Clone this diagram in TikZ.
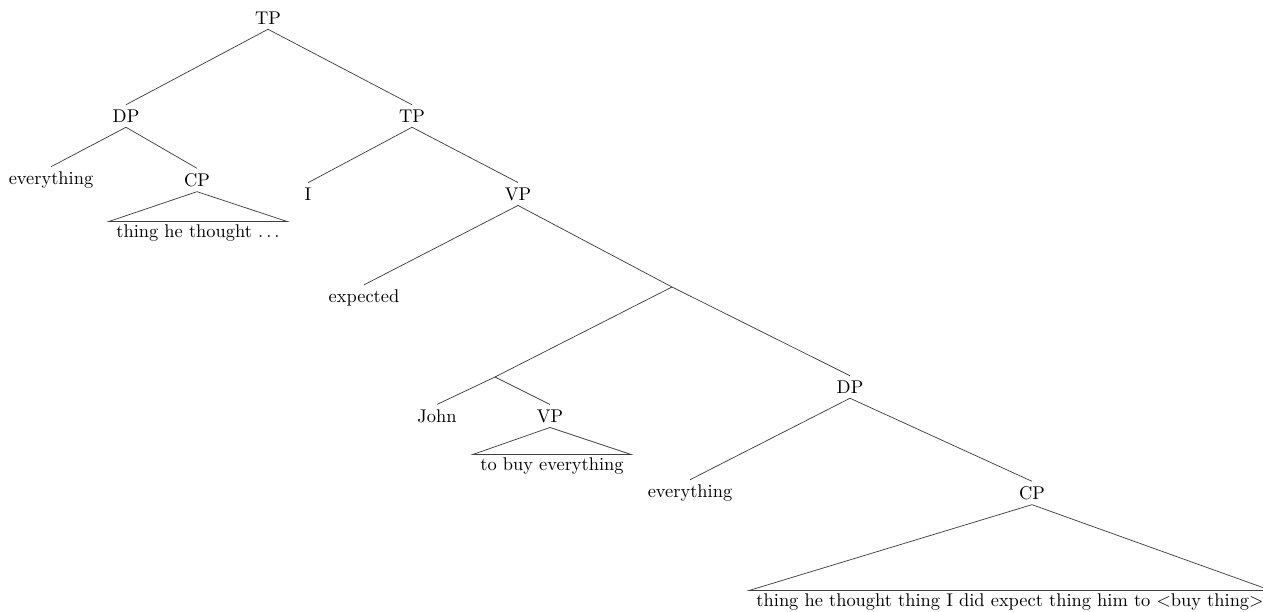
\documentclass[tikz,border=0pt]{standalone}
\begin{document}
\begin{tikzpicture}[x=0.543pt,y=-0.543pt,
  lab/.style={inner xsep=1pt,inner ysep=2.5pt},
  roofbox/.style={inner xsep=4pt,inner ysep=1.5pt},
  edge/.style={draw=black!75,line width=0.4pt}]
\useasboundingbox (0,0) rectangle (1263,612);
% nodes
\node[lab] (tp) at (268,18) {TP};
\node[lab] (dp1) at (126,116) {DP};
\node[lab] (tp2) at (412,116) {TP};
\node[lab] (ev1) at (51,180) {everything};
\node[lab] (cp1) at (197,180) {CP};
\node[roofbox] (r1) at (198,233) {thing he thought $\ldots$};
\node[lab] (i) at (308,194) {I};
\node[lab] (vp1) at (518,194) {VP};
\node[lab] (exp) at (364,298) {expected};
\coordinate (b1) at (672,287);
\coordinate (b2) at (495,377);
\node[lab] (john) at (437,416) {John};
\node[lab] (vp2) at (550,416) {VP};
\node[roofbox] (r2) at (552,466) {to buy everything};
\node[lab] (dp2) at (850,387) {DP};
\node[lab] (ev2) at (690,493) {everything};
\node[lab] (cp2) at (1032,493) {CP};
\node[roofbox] (r3) at (1010,602) {thing he thought thing I did expect thing him to ${<}$buy thing${>}$};
% edges
\draw[edge] (tp.south) -- (dp1.north);
\draw[edge] (tp.south) -- (tp2.north);
\draw[edge] (dp1.south) -- (ev1.north);
\draw[edge] (dp1.south) -- (cp1.north);
\draw[edge] (cp1.south) -- (r1.north west) -- (r1.north east) -- cycle;
\draw[edge] (tp2.south) -- (i.north);
\draw[edge] (tp2.south) -- (vp1.north);
\draw[edge] (vp1.south) -- (exp.north);
\draw[edge] (vp1.south) -- (b1);
\draw[edge] (b1) -- (b2);
\draw[edge] (b1) -- (dp2.north);
\draw[edge] (b2) -- (john.north);
\draw[edge] (b2) -- (vp2.north);
\draw[edge] (vp2.south) -- (r2.north west) -- (r2.north east) -- cycle;
\draw[edge] (dp2.south) -- (ev2.north);
\draw[edge] (dp2.south) -- (cp2.north);
\draw[edge] (cp2.south) -- (r3.north west) -- (r3.north east) -- cycle;
\end{tikzpicture}
\end{document}
